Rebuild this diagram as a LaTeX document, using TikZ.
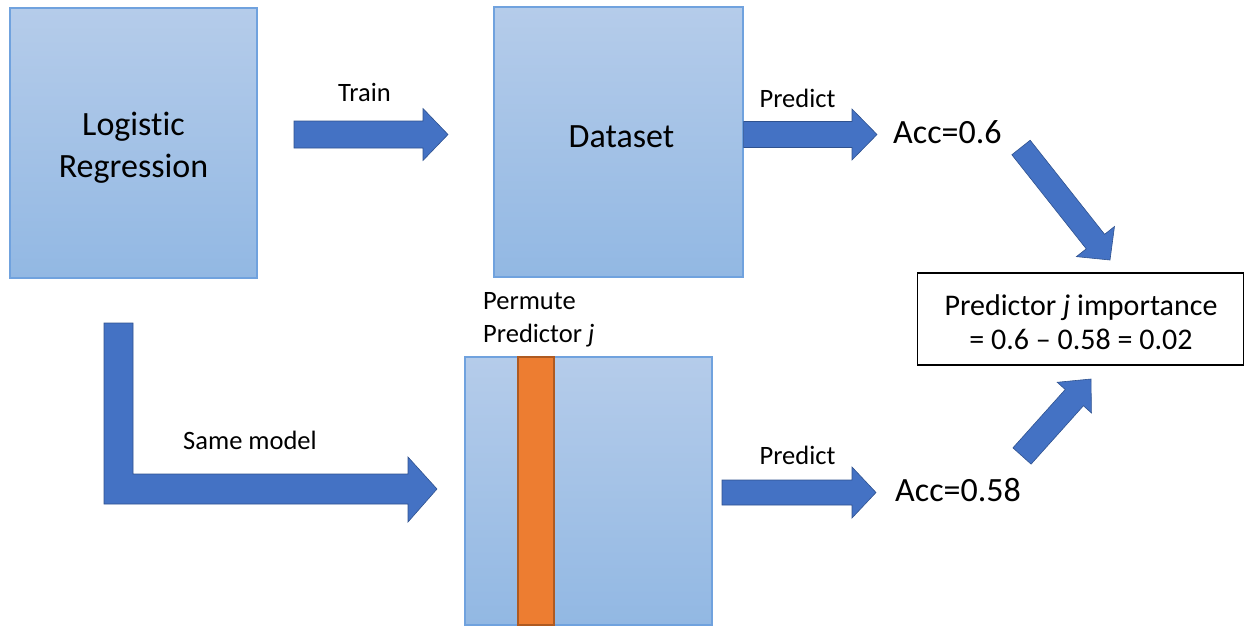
\documentclass[tikz,border=0pt]{standalone}
\usepackage{fontspec}
\setmainfont{Carlito}[Ligatures={TeX,NoCommon}]
\usetikzlibrary{calc}
\definecolor{arrowblue}{HTML}{4472C4}
\definecolor{arrowedge}{HTML}{2F528F}
\definecolor{boxtop}{RGB}{181,204,234}
\definecolor{boxbot}{RGB}{146,184,227}
\definecolor{boxedge}{RGB}{112,162,222}
\definecolor{permorange}{HTML}{ED7D31}
\definecolor{permedge}{HTML}{AE5A21}
% #1 start, #2 tip, #3 shaft half width, #4 head half width, #5 head length
\newcommand{\fatarrow}[5]{%
  \coordinate (fa-c) at ($(#2)!#5!(#1)$);
  \filldraw[blockarrow] ($(#1)!#3!90:(#2)$) -- ($(fa-c)!#3!90:(#2)$) -- ($(fa-c)!#4!90:(#2)$) -- (#2)
    -- ($(fa-c)!#4!-90:(#2)$) -- ($(fa-c)!#3!-90:(#2)$) -- ($(#1)!#3!-90:(#2)$) -- cycle;
}
\begin{document}
\begin{tikzpicture}[x=1pt,y=-1pt,
  databox/.style={draw=boxedge, line width=1.2pt, top color=boxtop, bottom color=boxbot, inner sep=0pt},
  permcol/.style={draw=permedge, line width=1.5pt, fill=permorange, inner sep=0pt},
  impbox/.style={draw=black, line width=1.5pt, fill=white, inner sep=0pt},
  blockarrow/.style={fill=arrowblue, draw=arrowedge, line width=0.6pt, line join=miter},
  bigtext/.style={font=\fontsize{34}{42}\selectfont, inner sep=0pt, align=center},
  midtext/.style={font=\fontsize{30}{34}\selectfont, inner sep=0pt, align=center},
  lbl/.style={font=\fontsize{26.5}{33}\selectfont, inner sep=0pt}]
\useasboundingbox (0,0) rectangle (1245,627);

% boxes
\node[databox, minimum width=247pt, minimum height=270pt] (lr) at (133.5,143) {};
\node[databox, minimum width=249pt, minimum height=270pt] (ds) at (618.5,142) {};
\node[databox, minimum width=247pt, minimum height=268pt] (pd) at (588.5,491) {};
\node[permcol, minimum width=36pt, minimum height=268pt] (col) at (536,491) {};
\node[impbox, minimum width=326pt, minimum height=92pt] (imp) at (1080.5,319) {};

% texts (multi-line nodes: base = baseline of last line)
\node[bigtext, anchor=base] (lrtext) at (133.5,177) {Logistic\\Regression};
\node[bigtext, anchor=base] (dstext) at (621.5,147) {Dataset};
\node[bigtext, anchor=base west] (acc1) at (893,143) {Acc=0.6};
\node[bigtext, anchor=base west] (acc2) at (895,501) {Acc=0.58};
\node[midtext, anchor=base] (imptext) at (1081,349) {Predictor \textit{j} importance\\= 0.6 – 0.58 = 0.02};
\node[lbl, anchor=base] (trainlbl) at (364.5,101) {Train};
\node[lbl, anchor=base] (pred1lbl) at (797.5,107) {Predict};
\node[lbl, anchor=base] (pred2lbl) at (797.5,464) {Predict};
\node[lbl, anchor=base] (samelbl) at (250,449) {Same model};
\node[lbl, anchor=base west, align=left] (permlbl) at (483,342) {Permute\\Predictor \textit{j}};

% arrow end points
\coordinate (trs) at (294,134.5);
\coordinate (tre) at (448,134.5);
\coordinate (p1s) at (ds.east |- trs);
\coordinate (p1e) at (877,134.5);
\coordinate (d1s) at (1021,147.5);
\coordinate (d1e) at (1110,260);
\coordinate (d2s) at (1022,456);
\coordinate (d2e) at (1091,379);
\coordinate (p2s) at (722,492.5);
\coordinate (p2e) at (876,492.5);

\fatarrow{trs}{tre}{13.5pt}{26pt}{25pt}
\fatarrow{p1s}{p1e}{13pt}{25.5pt}{25pt}
\fatarrow{d1s}{d1e}{11.7pt}{24.3pt}{23.5pt}
\fatarrow{d2s}{d2e}{12.2pt}{23pt}{25pt}
\fatarrow{p2s}{p2e}{12.5pt}{25.5pt}{24pt}

% L-shaped arrow
\coordinate (ls) at (118.5,323);
\coordinate (le) at (437,489);
\filldraw[blockarrow] (104,323) -- (133,323) -- (133,474) -- (408,474) -- (408,457) -- (le)
  -- (408,522) -- (408,504) -- (104,504) -- cycle;
\end{tikzpicture}
\end{document}
